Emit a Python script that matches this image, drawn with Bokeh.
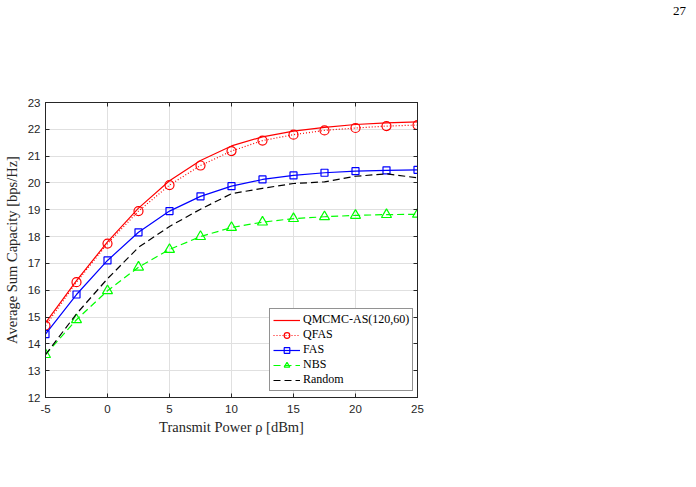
from bokeh.plotting import figure
from bokeh.layouts import column
from bokeh.models import Range1d, LinearAxis, Legend, LegendItem, FixedTicker, Div
from bokeh.embed import file_html
from bokeh.resources import INLINE

# ---- data ----
power = [-5, -2.5, 0, 2.5, 5, 7.5, 10, 12.5, 15, 17.5, 20, 22.5, 25]
qmcmc = [14.78, 16.36, 17.80, 19.06, 20.08, 20.84, 21.38, 21.72, 21.93, 22.07, 22.18, 22.24, 22.28]
qfas = [14.68, 16.30, 17.74, 18.95, 19.92, 20.65, 21.19, 21.58, 21.80, 21.96, 22.05, 22.12, 22.16]
fas = [14.36, 15.84, 17.11, 18.16, 18.95, 19.50, 19.88, 20.13, 20.28, 20.38, 20.44, 20.47, 20.49]
nbs = [13.60, 14.90, 15.98, 16.86, 17.52, 18.00, 18.34, 18.54, 18.67, 18.74, 18.79, 18.82, 18.83]
rand = [13.60, 15.12, 16.43, 17.60, 18.38, 19.02, 19.60, 19.80, 19.98, 20.04, 20.25, 20.34, 20.19]
x_ticks = [-5, 0, 5, 10, 15, 20, 25]
y_ticks = [12, 13, 14, 15, 16, 17, 18, 19, 20, 21, 22, 23]
series_names = ["QMCMC-AS(120,60)", "QFAS", "FAS", "NBS", "Random"]
x_title = "Transmit Power ρ [dBm]"
y_title = "Average Sum Capacity [bps/Hz]"
page_number = "27"

W, H = 696, 487
HEAD = 30            # strip at the top of the page holding the page number
L, R, T, B = 43, 417, 102, 397
X0, X1, Y0, Y1 = -5, 25, 12, 23

AX = "#262626"
SERIF = "Liberation Serif"

# ---- page header strip with the page number ----
head = Div(text=f'<div style="margin:0; padding:0; padding-left:673px; padding-top:3px; '
                f'font-family:\'{SERIF}\'; font-size:13px; line-height:15px; color:black;">'
                f'{page_number}</div>',
           width=W, height=HEAD, margin=0, styles={"background-color": "white"})

# ---- main chart ----
p = figure(width=W, height=H - HEAD, output_backend="svg", toolbar_location=None,
           x_range=Range1d(X0, X1), y_range=Range1d(Y0, Y1),
           min_border_left=L, min_border_right=W - R,
           min_border_top=T - HEAD, min_border_bottom=H - B)
p.background_fill_color = "white"
p.border_fill_color = "white"
p.outline_line_color = AX
p.outline_line_width = 1

p.xaxis.ticker = FixedTicker(ticks=x_ticks)
p.yaxis.ticker = FixedTicker(ticks=y_ticks)
p.xaxis.major_label_overrides = {t: str(t) for t in x_ticks}
for ax in [p.xaxis[0], p.yaxis[0]]:
    ax.major_tick_in = 4
    ax.major_tick_out = 0
    ax.minor_tick_in = 0
    ax.minor_tick_out = 0
    ax.axis_line_color = AX
    ax.major_tick_line_color = AX
    ax.major_label_text_font = "Liberation Sans"
    ax.major_label_text_font_size = "11.5px"
    ax.major_label_text_color = AX
    ax.axis_label_text_font = SERIF
    ax.axis_label_text_font_size = "14.5px"
    ax.axis_label_text_font_style = "normal"
    ax.axis_label_text_color = AX
p.xaxis.major_label_standoff = 7
p.yaxis.major_label_standoff = 5
p.xaxis.axis_label = x_title
p.yaxis.axis_label = y_title
p.xaxis.axis_label_standoff = 3
p.yaxis.axis_label_standoff = 5

top = LinearAxis(ticker=FixedTicker(ticks=x_ticks), major_tick_in=4, major_tick_out=0,
                 minor_tick_in=0, minor_tick_out=0,
                 major_label_overrides={t: "" for t in x_ticks},
                 major_label_standoff=0,
                 axis_line_color=AX, major_tick_line_color=AX)
right = LinearAxis(ticker=FixedTicker(ticks=y_ticks), major_tick_in=4, major_tick_out=0,
                   minor_tick_in=0, minor_tick_out=0,
                   major_label_overrides={t: "" for t in y_ticks},
                   major_label_standoff=0,
                   axis_line_color=AX, major_tick_line_color=AX)
p.add_layout(top, "above")
p.add_layout(right, "right")

p.xgrid.ticker = FixedTicker(ticks=x_ticks)
p.ygrid.ticker = FixedTicker(ticks=y_ticks)
p.grid.grid_line_color = "#e0e0e0"
p.grid.grid_line_width = 1

# ---- series ----
r_q = p.line(power, qmcmc, line_color="#ff0000", line_width=1.2)
r_f1 = p.line(power, qfas, line_color="#ff0000", line_width=1.2, line_dash="1 2")
r_f2 = p.scatter(power, qfas, marker="circle", size=9, fill_color=None,
                 line_color="#ff0000", line_width=1.2)
r_a1 = p.line(power, fas, line_color="#0000ff", line_width=1.2)
r_a2 = p.scatter(power, fas, marker="square", size=7, fill_color=None,
                 line_color="#0000ff", line_width=1.2)
r_n1 = p.line(power, nbs, line_color="#00ff00", line_width=1.2, line_dash="7 4")
r_n2 = p.scatter(power, nbs, marker="triangle", size=10, fill_color=None,
                 line_color="#00ff00", line_width=1.2)
r_r = p.line(power, rand, line_color="black", line_width=1.2, line_dash="7 4")

legend = Legend(items=[
    LegendItem(label=series_names[0], renderers=[r_q]),
    LegendItem(label=series_names[1], renderers=[r_f1, r_f2]),
    LegendItem(label=series_names[2], renderers=[r_a1, r_a2]),
    LegendItem(label=series_names[3], renderers=[r_n1, r_n2]),
    LegendItem(label=series_names[4], renderers=[r_r]),
], location=(224, 6))
legend.label_text_font = SERIF
legend.label_text_font_size = "12px"
legend.label_text_color = "black"
legend.label_height = 14
legend.glyph_height = 14
legend.glyph_width = 27
legend.label_standoff = 3
legend.spacing = 0
legend.padding = 3
legend.margin = 0
legend.border_line_color = AX
legend.border_line_width = 1
legend.background_fill_color = "white"
legend.background_fill_alpha = 1
p.add_layout(legend)

page = column(head, p, spacing=0)
open("out.html", "w").write(file_html(page, INLINE))
